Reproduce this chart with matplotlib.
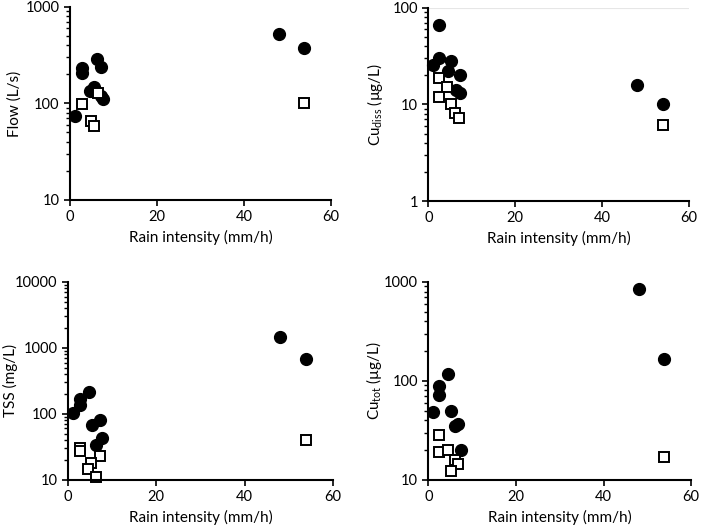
import matplotlib
matplotlib.use("Agg")
import matplotlib.pyplot as plt
from matplotlib.ticker import FuncFormatter, LogLocator, MultipleLocator

plt.rcParams['font.family'] = ['Lato', 'DejaVu Sans']
plt.rcParams['mathtext.fontset'] = 'custom'
plt.rcParams['mathtext.rm'] = 'Lato'

# rain intensity (mm/h) for each event, filled circles / open squares per panel
flow_circ_x = [1.2, 2.7, 2.7, 6.3, 7.2, 5.4, 4.6, 7.0, 7.6, 48.0, 53.9]
flow_circ_y = [74, 232, 208, 287, 237, 149, 136, 120, 112, 526, 371]
flow_sq_x = [2.8, 4.8, 5.5, 6.4, 53.9]
flow_sq_y = [99, 66, 59, 128, 100]

cud_circ_x = [2.5, 2.5, 1.0, 5.2, 4.6, 7.4, 6.4, 7.3, 48.0, 53.9]
cud_circ_y = [67, 30.5, 25.6, 28, 22, 20, 14, 13, 15.8, 10]
cud_sq_x = [2.5, 4.4, 2.5, 5.2, 6.1, 7.0, 53.9]
cud_sq_y = [19, 15.3, 12, 10, 8.2, 7.2, 6.1]

tss_circ_x = [4.8, 2.7, 2.7, 1.1, 5.5, 7.3, 7.7, 6.3, 48.0, 53.9]
tss_circ_y = [213, 170, 137, 102, 68, 81, 43, 34, 1460, 670]
tss_sq_x = [2.7, 2.7, 7.3, 5.3, 4.6, 6.3, 53.9]
tss_sq_y = [30, 27, 23, 18, 14.5, 11, 40]

cut_circ_x = [4.6, 2.5, 2.5, 1.0, 5.2, 6.1, 6.8, 7.5, 48.0, 53.9]
cut_circ_y = [118, 88, 72, 48, 50, 35, 37, 20, 850, 168]
cut_sq_x = [2.5, 2.5, 4.4, 6.1, 6.8, 5.2, 53.9]
cut_sq_y = [28.5, 19, 20, 16, 14.4, 12.3, 17]

panels = [
    ([0.100, 0.622, 0.372, 0.365], flow_circ_x, flow_circ_y, flow_sq_x, flow_sq_y, (10, 1000), 'Flow (L/s)', -0.184),
    ([0.611, 0.620, 0.372, 0.365], cud_circ_x, cud_circ_y, cud_sq_x, cud_sq_y, (1, 100), 'Cu$_{\\mathregular{diss}}$ (µg/L)', -0.165),
    ([0.097, 0.093, 0.378, 0.374], tss_circ_x, tss_circ_y, tss_sq_x, tss_sq_y, (10, 10000), 'TSS (mg/L)', -0.19),
    ([0.611, 0.093, 0.375, 0.374], cut_circ_x, cut_circ_y, cut_sq_x, cut_sq_y, (10, 1000), 'Cu$_{\\mathregular{tot}}$ (µg/L)', -0.167),
]

fig = plt.figure(figsize=(7.01, 5.29), dpi=100)

for i, (pos, cx, cy, sx, sy, ylim, ylabel, lx) in enumerate(panels):
    ax = fig.add_axes(pos)
    ax.plot(cx, cy, 'o', color='black', markersize=8.5, linestyle='none', clip_on=False)
    ax.plot(sx, sy, 's', markerfacecolor='white', markeredgecolor='black',
            markeredgewidth=1.4, markersize=7.5, linestyle='none', clip_on=False)
    ax.set_yscale('log')
    ax.set_ylim(*ylim)
    ax.set_xlim(0, 60)
    ax.xaxis.set_major_locator(MultipleLocator(20))
    ax.yaxis.set_major_locator(LogLocator(base=10))
    ax.yaxis.set_minor_locator(LogLocator(base=10, subs=range(2, 10)))
    ax.yaxis.set_major_formatter(FuncFormatter(lambda v, p: f'{v:g}'))
    ax.yaxis.set_minor_formatter(FuncFormatter(lambda v, p: ''))
    for s in ['top', 'right']:
        ax.spines[s].set_visible(False)
    for s in ['left', 'bottom']:
        ax.spines[s].set_linewidth(1.5)
    ax.tick_params(axis='both', which='major', direction='out', length=4, width=1.2, labelsize=10.5)
    ax.tick_params(axis='y', which='minor', direction='out', length=3, width=1)
    ax.set_xlabel('Rain intensity (mm/h)', fontsize=11)
    ax.set_ylabel(ylabel, fontsize=11)
    ax.yaxis.set_label_coords(lx, 0.5)
    if i == 1:
        ax.axhline(ylim[1], color='#e6e6e6', linewidth=0.8, zorder=0)

fig.savefig('out.png', dpi=100)
